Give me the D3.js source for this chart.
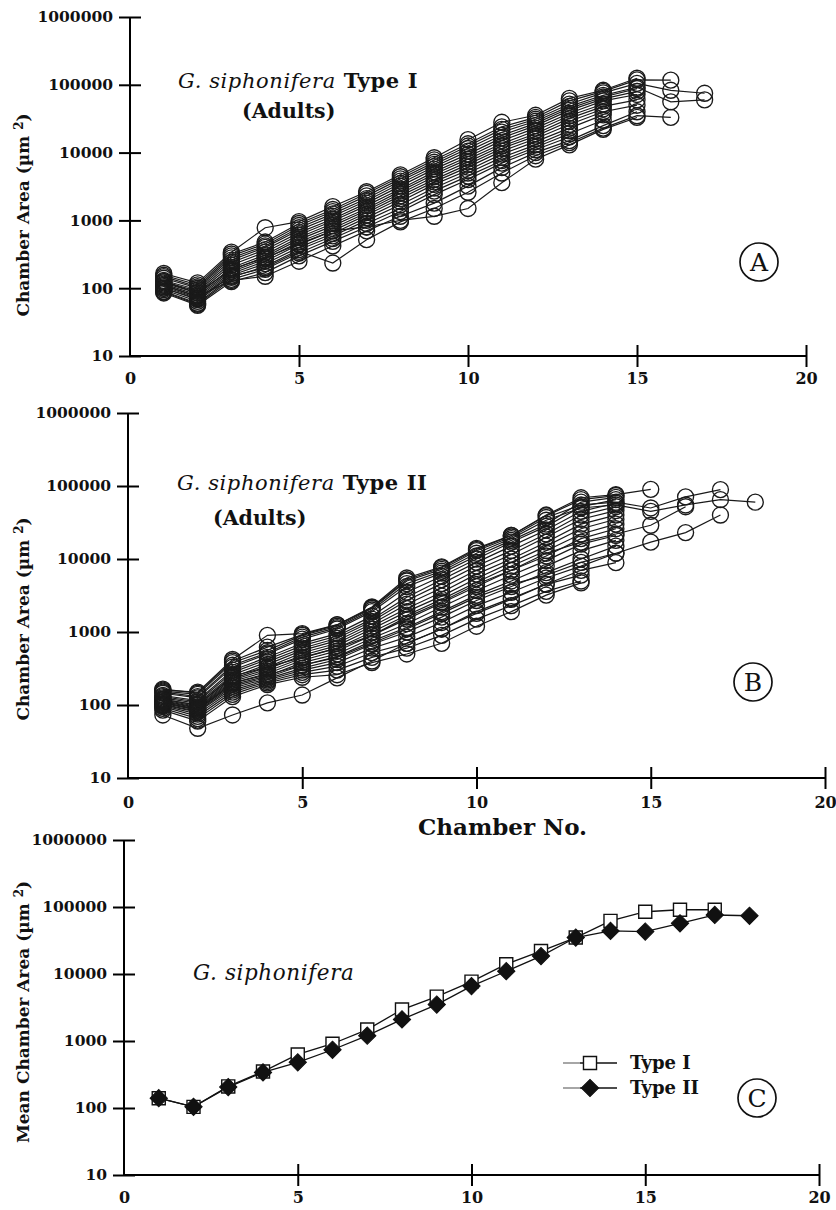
<!DOCTYPE html>
<html><head><meta charset="utf-8">
<script src="https://cdn.jsdelivr.net/npm/d3@7"></script>
<style>body{margin:0;background:#fff}svg{display:block}</style>
</head><body>
<script>
// ---------- DATA ----------
const chamberTicks = [0, 5, 10, 15, 20];
const areaTicks = [10, 100, 1000, 10000, 100000, 1000000];

// Panel A: G. siphonifera Type I adults, chamber area (µm²) for chambers 1..n
const typeIAdults = [
  [165,120,340,780,960,1600,2650,4700,8400,15500,28000,35500,63000,83000,125000],
  [155,112,320,480,900,1450,2500,4400,7800,13500,24000,33000,58000,80000,118000,117000],
  [148,105,300,450,840,1350,2300,4100,7200,12500,22000,31000,52000,76000,105000,83000,75000],
  [140,100,280,420,780,1250,2100,3800,6700,11500,20000,29000,48000,70000,92000,56000,60000],
  [100,70,150,200,350,235,520,950,1500,2600,5000,9000,14000,23000,35000,33000],
  [130,95,260,400,720,1150,1950,3500,6200,10500,18000,27000,45000,66000,88000],
  [125,90,240,370,660,1050,1800,3200,5700,9500,16500,25000,42000,62000,80000],
  [120,85,220,340,610,980,1650,2900,5200,8700,15000,23000,38000,58000,72000],
  [115,80,200,310,560,900,1500,2700,4800,8000,13500,21000,35000,52000],
  [110,76,185,290,520,830,1400,2500,4400,7300,12500,19000,32000,48000,60000],
  [105,72,175,270,480,760,1300,2300,4000,6700,11500,17500,29000,44000],
  [100,68,165,250,440,700,1200,2100,3700,6100,10500,16000,26000,40000,50000],
  [95,64,155,230,400,640,1100,1900,3400,5500,9500,14500,23000,36000],
  [90,60,145,210,370,590,1000,1700,3000,5000,8500,13000,21000],
  [88,58,135,190,330,540,900,1500,2700,4500,7600,12000,19000,30000],
  [85,56,125,170,300,490,800,1350,2400,4000,7000,11000,17000],
  [110,75,130,150,250,420,700,1150,1800,3200,6000,10000,15000,25000,40000],
  [125,85,190,280,450,700,800,1000,1150,1500,3600,8000,13000,22000,33000]
];

// Panel B: G. siphonifera Type II adults
const typeIIAdults = [
  [160,150,420,900,950,1260,2200,5500,7800,14000,21000,40000,69000,76000,90000],
  [155,140,380,560,900,1200,2100,5000,7200,13000,20000,37000,55000,60000,50000,71000,89000],
  [150,130,350,520,850,1150,2000,4600,6800,12000,19000,34000,50000,55000,45000,55000,65000,60000],
  [120,100,250,330,450,600,900,1600,2600,4500,7000,12000,17000,22000,29000,52000],
  [110,85,200,260,350,450,700,1100,1800,3000,4500,6000,9000,12000,17000,23000,40000],
  [73,48,73,107,137,235,400,700,1100,1800,2800,4500,7000,8900],
  [145,125,330,500,800,1100,1900,4200,6400,11000,18000,30000,60000,70000],
  [135,115,300,450,700,950,1650,3500,5800,10000,17000,28000,52000,65000],
  [130,110,280,420,650,880,1500,3000,5200,9000,15000,25000,45000,58000],
  [125,105,260,390,600,820,1400,2700,4600,8000,13000,22000,40000,52000],
  [120,100,240,360,560,760,1300,2400,4000,7000,11500,20000,35000,46000],
  [118,95,230,330,520,700,1200,2100,3500,6200,10000,17000,30000,40000],
  [115,92,220,310,480,650,1100,1900,3100,5400,9000,15000,26000,35000],
  [112,90,210,290,440,600,1000,1700,2800,4800,8000,13000,22000,30000],
  [108,88,200,270,410,550,900,1500,2500,4200,7000,11000,19000,26000],
  [105,85,190,250,380,500,820,1300,2200,3700,6000,9500,16000,21000],
  [102,82,180,240,350,460,750,1150,1900,3200,5000,8000,13000,18000],
  [100,80,170,230,320,420,680,1000,1600,2700,4200,6500,10000,15000],
  [98,75,160,220,300,380,600,850,1350,2300,3500,5500,8000,12000],
  [95,70,150,210,280,340,520,700,1100,1900,2900,4500,6000],
  [90,65,140,200,260,300,450,600,900,1500,2300,3600,5000],
  [85,60,130,190,240,260,380,500,700,1200,1900,3200,4700],
  [165,145,400,620,920,1250,2150,5200,7600,13500,21000,39000,65000,74000]
];

// Panel C: mean chamber area
const meanTypeI  = [140,104,210,350,630,910,1480,2950,4600,7700,14000,22000,35000,62000,85000,91000,91000];
const meanTypeII = [140,104,205,340,480,740,1200,2100,3500,6600,11000,18500,35000,44000,43000,57000,76000,74000];
const legendLabels = ["Type I", "Type II"];

// ---------- DRAWING ----------
const FONT = "DejaVu Serif";
const svg = d3.select("body").append("svg").attr("width", 836).attr("height", 1210);

function makePanel(p) {
  const x = d3.scaleLinear().domain([0, 20]).range([p.left, p.right]);
  const y = d3.scaleLog().domain([10, 1e6]).range([p.bottom, p.top]);

  const gy = svg.append("g").attr("transform", `translate(${p.left},0)`)
    .call(d3.axisLeft(y).tickValues(areaTicks).tickFormat(d3.format("d")).tickSize(11).tickPadding(6));
  gy.selectAll(".tick line").attr("x1", 11).attr("stroke-width", 2);
  gy.selectAll(".tick text").attr("font-family", FONT).attr("font-weight", "bold").attr("font-size", 15.5).attr("fill", "#111");
  gy.select(".domain").attr("stroke-width", 2).attr("d", `M0,${p.top}V${p.bottom}`);

  const gx = svg.append("g").attr("transform", `translate(0,${p.bottom})`)
    .call(d3.axisBottom(x).tickValues(chamberTicks).tickFormat(d3.format("d")).tickSize(11).tickPadding(p.xpad));
  gx.selectAll(".tick line").attr("y1", -11).attr("stroke-width", 2)
    .attr("display", d => d === 0 ? "none" : null);
  gx.selectAll(".tick text").attr("font-family", FONT).attr("font-weight", "bold").attr("font-size", 16).attr("fill", "#111");
  gx.select(".domain").attr("stroke-width", 2).attr("d", `M${p.left},0H${p.right}`);

  // y axis title
  const t = svg.append("text").attr("transform", `translate(${p.ytx},${p.yty}) rotate(-90)`)
    .attr("text-anchor", "middle").attr("font-family", FONT).attr("font-weight", "bold")
    .attr("font-size", 17).attr("fill", "#111");
  t.append("tspan").text(p.ytitle + " (\u00b5m ");
  t.append("tspan").attr("font-size", 12).attr("dy", -6).text("2");
  t.append("tspan").attr("dy", 6).text(")");
  return {x, y};
}

function circledLetter(cx, cy, letter) {
  svg.append("circle").attr("cx", cx).attr("cy", cy).attr("r", 19)
    .attr("fill", "none").attr("stroke", "#111").attr("stroke-width", 1.7);
  svg.append("text").attr("x", cx).attr("y", cy + 9).attr("text-anchor", "middle")
    .attr("font-family", FONT).attr("font-size", 25).attr("fill", "#111").text(letter);
}

function title(xp, yp, typeTxt, size) {
  const t = svg.append("text").attr("x", xp).attr("y", yp).attr("font-family", FONT)
    .attr("font-size", size).attr("letter-spacing", 0.6).attr("fill", "#111");
  t.append("tspan").attr("font-style", "italic").text("G. siphonifera");
  if (typeTxt) t.append("tspan").attr("font-weight", "bold").text(" " + typeTxt);
}

function scatterPanel(sc, data) {
  const line = d3.line().x((d, i) => sc.x(i + 1)).y(d => sc.y(d));
  const g = svg.append("g");
  g.selectAll("path.s").data(data).join("path").attr("class", "s")
    .attr("d", line).attr("fill", "none").attr("stroke", "#1a1a1a").attr("stroke-width", 1.2);
  data.forEach(s => {
    g.selectAll(null).data(s).join("circle")
      .attr("cx", (d, i) => sc.x(i + 1)).attr("cy", d => sc.y(d)).attr("r", 8)
      .attr("fill", "none").attr("stroke", "#1a1a1a").attr("stroke-width", 1.35);
  });
}

// Panel A
const A = makePanel({left: 130, right: 806, top: 17, bottom: 356, xpad: 6, ytx: 29, yty: 215, ytitle: "Chamber Area"});
scatterPanel(A, typeIAdults);
title(178, 88, "Type I", 21);
svg.append("text").attr("x", 242).attr("y", 118).attr("font-family", FONT).attr("font-weight", "bold")
  .attr("font-size", 20.5).attr("fill", "#111").text("(Adults)");
circledLetter(759, 262, "A");

// Panel B
const B = makePanel({left: 128, right: 825, top: 413, bottom: 778, xpad: 8, ytx: 29, yty: 619, ytitle: "Chamber Area"});
scatterPanel(B, typeIIAdults);
title(177, 490, "Type II", 21);
svg.append("text").attr("x", 213).attr("y", 525).attr("font-family", FONT).attr("font-weight", "bold")
  .attr("font-size", 20.5).attr("fill", "#111").text("(Adults)");
circledLetter(753, 682, "B");
svg.append("text").attr("x", 418).attr("y", 835).attr("font-family", FONT).attr("font-weight", "bold")
  .attr("font-size", 23).attr("fill", "#111").text("Chamber No.");

// Panel C
const C = makePanel({left: 124, right: 819, top: 840, bottom: 1175, xpad: 6, ytx: 29, yty: 1012, ytitle: "Mean Chamber Area"});
const lineC = d3.line().x((d, i) => C.x(i + 1)).y(d => C.y(d));
const sq = d3.symbol(d3.symbolSquare, 170);
const dia = d3.symbol(d3.symbolSquare, 150);
svg.append("path").attr("d", lineC(meanTypeI)).attr("fill", "none").attr("stroke", "#111").attr("stroke-width", 1.3);
svg.append("path").attr("d", lineC(meanTypeII)).attr("fill", "none").attr("stroke", "#111").attr("stroke-width", 1.3);
svg.append("g").selectAll("path").data(meanTypeI).join("path")
  .attr("transform", (d, i) => `translate(${C.x(i + 1)},${C.y(d)})`).attr("d", sq)
  .attr("fill", "#fff").attr("stroke", "#111").attr("stroke-width", 1.4);
svg.append("g").selectAll("path").data(meanTypeII).join("path")
  .attr("transform", (d, i) => `translate(${C.x(i + 1)},${C.y(d)}) rotate(45)`).attr("d", dia)
  .attr("fill", "#111").attr("stroke", "#111").attr("stroke-width", 1);
title(193, 980, null, 21.5);

// legend
const leg = svg.append("g");
legendLabels.forEach((lab, i) => {
  const ly = 1063 + i * 25;
  leg.append("line").attr("x1", 563).attr("x2", 580).attr("y1", ly).attr("y2", ly).attr("stroke", "#888").attr("stroke-width", 1.5);
  leg.append("line").attr("x1", 580).attr("x2", 617).attr("y1", ly).attr("y2", ly).attr("stroke", "#111").attr("stroke-width", 1.5);
  if (i === 0) leg.append("path").attr("transform", `translate(590,${ly})`).attr("d", sq)
      .attr("fill", "#fff").attr("stroke", "#111").attr("stroke-width", 1.4);
  else leg.append("path").attr("transform", `translate(590,${ly}) rotate(45)`).attr("d", dia)
      .attr("fill", "#111").attr("stroke", "#111");
  leg.append("text").attr("x", 630).attr("y", ly + 6).attr("font-family", FONT).attr("font-weight", "bold")
    .attr("font-size", 18).attr("fill", "#111").text(lab);
});
circledLetter(757, 1098, "C");
</script>
</body></html>
